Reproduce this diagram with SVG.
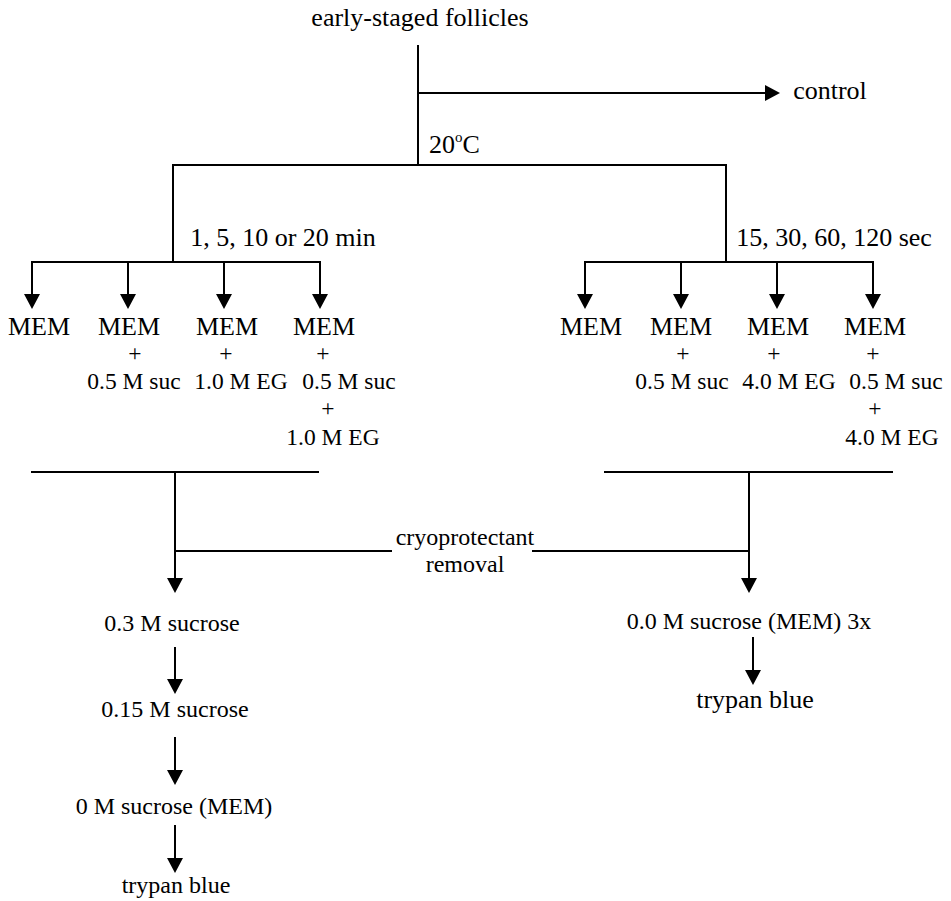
<svg xmlns="http://www.w3.org/2000/svg" width="951" height="901" viewBox="0 0 951 901">
<style>
text{font-family:'Liberation Serif','DejaVu Serif',serif;fill:#000;text-anchor:middle}
.t26{font-size:26px}
.t24{font-size:24px}
.t23{font-size:23.5px}
.ln{stroke:#000;stroke-width:2;fill:none}
.ar{stroke:#000;stroke-width:2;fill:none;marker-end:url(#ah)}
</style>
<defs>
<marker id="ah" viewBox="0 0 15 16" refX="12" refY="8" markerWidth="15" markerHeight="16" markerUnits="userSpaceOnUse" orient="auto">
<path d="M0,0 L15,8 L0,16 Z" fill="#000"/>
</marker>
</defs>
<rect width="951" height="901" fill="#fff"/>
<g id="connectors">
<line class="ln" x1="418" y1="45" x2="418" y2="165"/>
<line class="ar" x1="418" y1="93" x2="777" y2="93"/>
<line class="ln" x1="172" y1="165" x2="727" y2="165"/>
<line class="ln" x1="173" y1="165" x2="173" y2="262"/>
<line class="ln" x1="726" y1="165" x2="726" y2="262"/>
<line class="ln" x1="31" y1="262" x2="321" y2="262"/>
<line class="ar" x1="32" y1="262" x2="32" y2="306"/>
<line class="ar" x1="128" y1="262" x2="128" y2="306"/>
<line class="ar" x1="224" y1="262" x2="224" y2="306"/>
<line class="ar" x1="320" y1="262" x2="320" y2="306"/>
<line class="ln" x1="584" y1="262" x2="874" y2="262"/>
<line class="ar" x1="585" y1="262" x2="585" y2="306"/>
<line class="ar" x1="681" y1="262" x2="681" y2="306"/>
<line class="ar" x1="777" y1="262" x2="777" y2="306"/>
<line class="ar" x1="873" y1="262" x2="873" y2="306"/>
<line class="ln" x1="31" y1="472" x2="319" y2="472"/>
<line class="ln" x1="604" y1="472" x2="893" y2="472"/>
<line class="ar" x1="175" y1="472" x2="175" y2="590"/>
<line class="ar" x1="749" y1="472" x2="749" y2="590"/>
<line class="ln" x1="175" y1="551" x2="392" y2="551"/>
<line class="ln" x1="532" y1="551" x2="749" y2="551"/>
<line class="ar" x1="175" y1="647" x2="175" y2="691"/>
<line class="ar" x1="175" y1="737" x2="175" y2="782"/>
<line class="ar" x1="175" y1="825" x2="175" y2="870"/>
<line class="ar" x1="753" y1="637" x2="753" y2="682"/>
</g>
<g id="n-start"><text class="t26" x="420" y="26">early-staged follicles</text></g>
<g id="n-control"><text class="t26" x="830" y="99">control</text></g>
<g id="n-temp"><text class="t26" x="429" y="153" style="text-anchor:start">20<tspan font-size="15" dy="-11">o</tspan><tspan dy="11">C</tspan></text></g>
<g id="n-min"><text class="t26" x="283" y="246">1, 5, 10 or 20 min</text></g>
<g id="n-sec"><text class="t26" x="834" y="246">15, 30, 60, 120 sec</text></g>
<g id="n-l1"><text class="t26" x="39" y="335">MEM</text></g>
<g id="n-l2"><text class="t26" x="129" y="335">MEM</text><text class="t23" x="135" y="361">+</text><text class="t23" x="134" y="389">0.5 M suc</text></g>
<g id="n-l3"><text class="t26" x="227" y="335">MEM</text><text class="t23" x="226" y="361">+</text><text class="t23" x="241" y="389">1.0 M EG</text></g>
<g id="n-l4"><text class="t26" x="324" y="335">MEM</text><text class="t23" x="323" y="361">+</text><text class="t23" x="349" y="389">0.5 M suc</text><text class="t23" x="328" y="416">+</text><text class="t23" x="333" y="445">1.0 M EG</text></g>
<g id="n-r1"><text class="t26" x="591" y="335">MEM</text></g>
<g id="n-r2"><text class="t26" x="681" y="335">MEM</text><text class="t23" x="683" y="361">+</text><text class="t23" x="682" y="389">0.5 M suc</text></g>
<g id="n-r3"><text class="t26" x="778" y="335">MEM</text><text class="t23" x="774" y="361">+</text><text class="t23" x="789" y="389">4.0 M EG</text></g>
<g id="n-r4"><text class="t26" x="875" y="335">MEM</text><text class="t23" x="873" y="361">+</text><text class="t23" x="896" y="389">0.5 M suc</text><text class="t23" x="875" y="416">+</text><text class="t23" x="892" y="445">4.0 M EG</text></g>
<g id="n-removal"><text class="t24" x="465" y="545">cryoprotectant</text><text class="t24" x="465" y="572">removal</text></g>
<g id="n-s03"><text class="t24" x="172" y="631">0.3 M sucrose</text></g>
<g id="n-s015"><text class="t24" x="175" y="717">0.15 M sucrose</text></g>
<g id="n-s0"><text class="t24" x="174" y="814">0 M sucrose (MEM)</text></g>
<g id="n-tb-l"><text class="t24" x="176" y="893">trypan blue</text></g>
<g id="n-s00"><text class="t24" x="749" y="629">0.0 M sucrose (MEM) 3x</text></g>
<g id="n-tb-r"><text class="t26" x="755" y="708">trypan blue</text></g>
</svg>
